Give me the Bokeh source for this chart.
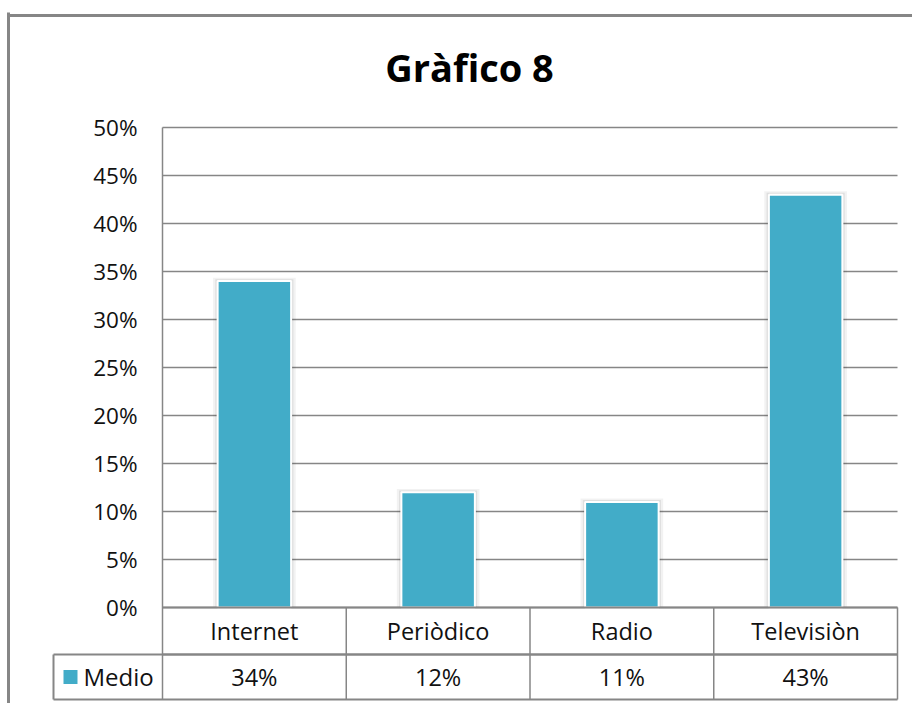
import numpy as np
from bokeh.plotting import figure
from bokeh.models import Range1d, FixedTicker, PrintfTickFormatter, Label, ColumnDataSource
from bokeh.core.properties import value
from bokeh.embed import file_html
from bokeh.resources import INLINE

# ---- data ----
title_text = "Gràfico 8"
categories = ["Internet", "Periòdico", "Radio", "Televisiòn"]
values = [34, 12, 11, 43]           # percent
value_labels = ["34%", "12%", "11%", "43%"]
series_name = "Medio"
y_ticks = [0, 5, 10, 15, 20, 25, 30, 35, 40, 45, 50]

BAR_COLOR = "#42ACC8"
LINE_COLOR = "#868686"
TEXT_COLOR = "#111111"
FONT = "Open Sans"

n = len(categories)
xs = np.arange(n) + 0.5

# layout of the data-table (data units below zero)
ROW1_BOTTOM = -4.896
ROW2_BOTTOM = -9.583
LEG_LEFT = -0.5932
X_MIN, X_MAX = -0.8381, 4.0816
Y_MIN, Y_MAX = -10.0, 61.979

p = figure(width=912, height=703, output_backend="svg", toolbar_location=None,
           x_range=Range1d(X_MIN, X_MAX), y_range=Range1d(Y_MIN, Y_MAX),
           min_border_left=8, min_border_right=0, min_border_top=12,
           min_border_bottom=0)
p.outline_line_color = None
p.background_fill_color = "white"
p.border_fill_color = "white"

# axes: y axis line doubles as the chart's outer left border
p.xaxis.visible = False
p.yaxis.ticker = FixedTicker(ticks=y_ticks)
p.yaxis.formatter = PrintfTickFormatter(format="%d%%")
p.yaxis.major_tick_line_color = None
p.yaxis.minor_tick_line_color = None
p.yaxis.major_tick_out = 0
p.yaxis.major_tick_in = 0
p.yaxis.major_label_standoff = -129
p.yaxis.major_label_text_font = FONT
p.yaxis.major_label_text_font_size = "22.5px"
p.yaxis.major_label_text_color = TEXT_COLOR
p.yaxis.axis_line_color = LINE_COLOR
p.yaxis.axis_line_width = 3
p.grid.visible = False

# horizontal gridlines (plot area only)
p.segment(x0=[0] * len(y_ticks), y0=y_ticks, x1=[n] * len(y_ticks), y1=y_ticks,
          line_color=LINE_COLOR, line_width=1.5)

# bar shadows
tops = np.array(values, dtype=float)
p.vbar(x=xs, top=tops + 0.35, bottom=0, width=0.45, fill_color="black",
       fill_alpha=0.05, line_color=None)
p.vbar(x=xs, top=tops + 0.2, bottom=0, width=0.425, fill_color="black",
       fill_alpha=0.08, line_color=None)
# bars
p.vbar(x=xs, top=values, bottom=0, width=0.4, fill_color=BAR_COLOR,
       line_color="white", line_width=2)

# plot-area left line + table lines
p.segment(x0=[0], y0=[y_ticks[-1]], x1=[0], y1=[ROW2_BOTTOM],
          line_color=LINE_COLOR, line_width=1.5)
p.segment(x0=[LEG_LEFT, LEG_LEFT], y0=[ROW1_BOTTOM, ROW2_BOTTOM], x1=[n, n],
          y1=[ROW1_BOTTOM, ROW2_BOTTOM], line_color=LINE_COLOR, line_width=2)
p.segment(x0=[0, 0], y0=[0, ROW1_BOTTOM], x1=[n, n], y1=[0, ROW1_BOTTOM],
          line_color=LINE_COLOR, line_width=2)
p.segment(x0=list(range(1, n + 1)), y0=[0] * n, x1=list(range(1, n + 1)),
          y1=[ROW2_BOTTOM] * n, line_color=LINE_COLOR, line_width=1.5)
p.segment(x0=[LEG_LEFT], y0=[ROW1_BOTTOM], x1=[LEG_LEFT], y1=[ROW2_BOTTOM],
          line_color=LINE_COLOR, line_width=2)

# table text
mid1 = ROW1_BOTTOM / 2
mid2 = (ROW1_BOTTOM + ROW2_BOTTOM) / 2
src = ColumnDataSource(dict(x=xs, cat=categories, lab=value_labels))
p.text(x="x", y=mid1, text="cat", source=src,
       text_font=value(FONT), text_font_size="23.5px", text_align="center",
       text_baseline="middle", text_color=TEXT_COLOR)
p.text(x="x", y=mid2, text="lab", source=src,
       text_font=value(FONT), text_font_size="23.5px", text_align="center",
       text_baseline="middle", text_color=TEXT_COLOR)

# legend key in the table
p.quad(left=[-0.5388], right=[-0.4626], bottom=[mid2 - 0.73], top=[mid2 + 0.73],
       fill_color=BAR_COLOR, line_color=None)
p.add_layout(Label(x=-0.43, y=mid2, text=series_name, text_font=FONT,
                   text_font_size="24px", text_align="left",
                   text_baseline="middle", text_color=TEXT_COLOR))

# title
p.add_layout(Label(x=1.6707, y=56.25, text=title_text, text_font=FONT,
                   text_font_size="38px", text_font_style="bold",
                   text_align="center", text_baseline="alphabetic",
                   text_color="black"))

# outer chart border (top edge)
p.segment(x0=[X_MIN], y0=[61.667], x1=[X_MAX], y1=[61.667],
          line_color=LINE_COLOR, line_width=3)

open("out.html", "w").write(file_html(p, INLINE))
